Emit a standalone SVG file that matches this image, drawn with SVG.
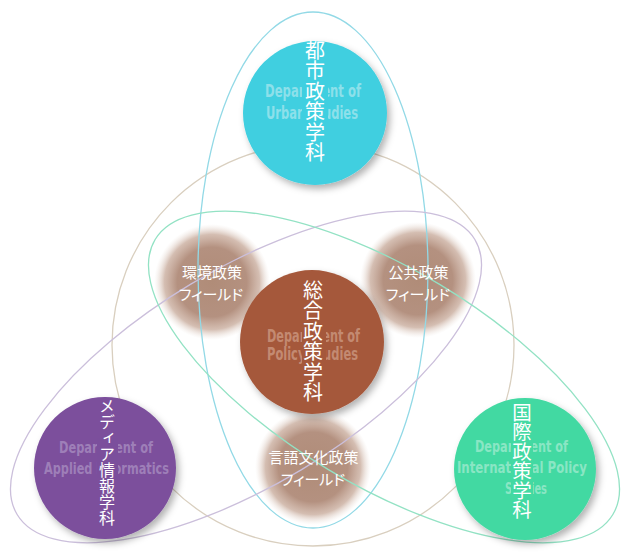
<svg xmlns="http://www.w3.org/2000/svg" width="631" height="557" viewBox="0 0 631 557">
<style>
.loop{fill:none;stroke-width:1.3}
.en{font-family:"Liberation Sans Narrow","DejaVu Sans Condensed","DejaVu Sans",sans-serif;font-weight:bold;text-anchor:middle}
.jv{font-family:"Noto Sans CJK JP",sans-serif;fill:#ffffff;writing-mode:vertical-rl;text-anchor:middle}
.fj{font-family:"Noto Sans CJK JP",sans-serif;fill:#ffffff;font-size:15px;text-anchor:middle;font-feature-settings:"palt"}
</style>
<defs>
<filter id="sh" x="-25%" y="-25%" width="160%" height="160%">
<feDropShadow dx="3" dy="4" stdDeviation="3.5" flood-color="#000000" flood-opacity="0.3"/>
</filter>
<radialGradient id="fg" cx="0.5" cy="0.5" r="0.5">
<stop offset="0" stop-color="#b08c78"/>
<stop offset="0.6" stop-color="#b49180"/>
<stop offset="0.82" stop-color="#c6a898" stop-opacity="0.75"/>
<stop offset="1" stop-color="#e8dcd4" stop-opacity="0"/>
</radialGradient>
</defs>
<rect width="631" height="557" fill="#ffffff"/>

<g id="field-env">
<circle cx="212" cy="282" r="58" fill="url(#fg)"/>
</g>
<g id="field-public">
<circle cx="418" cy="280" r="58" fill="url(#fg)"/>
</g>
<g id="field-lang">
<circle cx="313" cy="467" r="58" fill="url(#fg)"/>
</g>

<g id="connectors">
<ellipse class="loop" cx="313" cy="345" rx="201" ry="201" stroke="#d9cfbf"/>
<ellipse class="loop" cx="313" cy="270" rx="115" ry="258" stroke="#92d9e6"/>
<ellipse class="loop" cx="0" cy="0" rx="267" ry="108" transform="translate(246,377) rotate(-31)" stroke="#cbbfdb"/>
<ellipse class="loop" cx="0" cy="0" rx="267" ry="108" transform="translate(384,377) rotate(31)" stroke="#93e2c4"/>
</g>

<g id="field-env-label">
<text class="fj" x="212" y="278">環境政策</text>
<text class="fj" x="211" y="300">フィールド</text>
</g>
<g id="field-public-label">
<text class="fj" x="418.5" y="278">公共政策</text>
<text class="fj" x="418" y="300">フィールド</text>
</g>
<g id="field-lang-label">
<text class="fj" x="313.5" y="463">言語文化政策</text>
<text class="fj" x="313" y="485">フィールド</text>
</g>

<g id="dept-urban">
<circle cx="315" cy="113" r="72" fill="#3fcfe0" filter="url(#sh)"/>
<text class="en" x="313" y="97" font-size="17" fill="#8de0ea" textLength="96" lengthAdjust="spacingAndGlyphs">Department of</text>
<text class="en" x="312" y="119" font-size="17" fill="#8de0ea" textLength="92" lengthAdjust="spacingAndGlyphs">Urban Studies</text>
<rect x="302" y="80" width="26" height="44" fill="#3fcfe0"/>
<text class="jv" x="315" y="101.5" font-size="20" letter-spacing="0.5">都市政策学科</text>
</g>

<g id="dept-policy">
<circle cx="312" cy="342" r="72" fill="#a5583b" filter="url(#sh)"/>
<text class="en" x="313.5" y="342" font-size="17" fill="#c38a72" textLength="93" lengthAdjust="spacingAndGlyphs">Department of</text>
<text class="en" x="312.5" y="360" font-size="17" fill="#c38a72" textLength="91" lengthAdjust="spacingAndGlyphs">Policy Studies</text>
<rect x="302" y="326" width="24" height="40" fill="#a5583b"/>
<text class="jv" x="313" y="341.5" font-size="20" letter-spacing="0.5">総合政策学科</text>
</g>

<g id="dept-media">
<circle cx="105" cy="468" r="71" fill="#7b4f9c" filter="url(#sh)"/>
<text class="en" x="106" y="453" font-size="15" fill="#9e7fb8" textLength="94" lengthAdjust="spacingAndGlyphs">Department of</text>
<text class="en" x="106.5" y="474" font-size="15" fill="#9e7fb8" textLength="125" lengthAdjust="spacingAndGlyphs">Applied Informatics</text>
<rect x="97" y="438" width="21" height="40" fill="#7b4f9c"/>
<text class="jv" x="107" y="461.5" font-size="16">メディア情報学科</text>
</g>

<g id="dept-intl">
<circle cx="525" cy="469" r="71" fill="#43d9a2" filter="url(#sh)"/>
<text class="en" x="521.5" y="452" font-size="15" fill="#8ae6c4" textLength="93" lengthAdjust="spacingAndGlyphs">Department of</text>
<text class="en" x="522" y="473" font-size="15" fill="#8ae6c4" textLength="130" lengthAdjust="spacingAndGlyphs">International Policy</text>
<text class="en" x="526" y="494" font-size="15" fill="#8ae6c4" textLength="42" lengthAdjust="spacingAndGlyphs">Studies</text>
<rect x="511" y="436" width="22" height="62" fill="#43d9a2"/>
<text class="jv" x="522" y="461" font-size="19.5">国際政策学科</text>
</g>
</svg>
